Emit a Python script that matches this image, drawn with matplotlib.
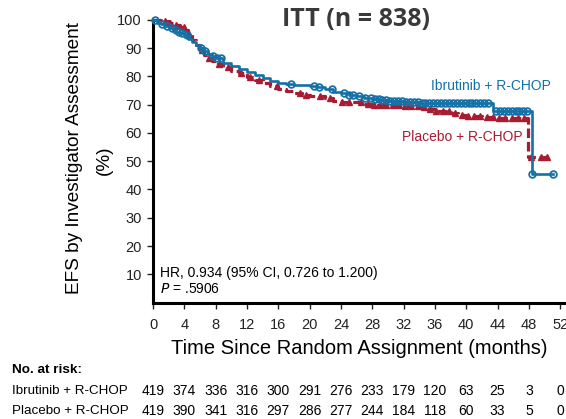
import matplotlib
matplotlib.use('Agg')
import matplotlib.pyplot as plt
import matplotlib.transforms as mtransforms
import numpy as np


# Kaplan-Meier steps (months, % event-free)
IBR_T = [0, 0.5, 1, 1.5, 2, 2.5, 3, 3.5, 4, 4.5, 5, 5.5, 6, 6.5, 7, 7.5, 8,
         9, 10, 11, 12, 13, 14, 15, 16, 17, 18, 19, 20, 21, 22, 23, 24, 25,
         26, 27, 28, 29, 30, 31, 32, 34, 36, 38, 40, 42, 43.4, 48.4, 51.1]
IBR_S = [100, 99, 98.5, 97.8, 97, 96.5, 95.8, 95.2, 94.5, 93.3, 92, 91,
         89.9, 88.8, 88, 87.2, 86.3, 84.8, 83.7, 82.5, 81.5, 80.3, 79.3,
         78.4, 77.8, 77.3, 76.9, 76.8, 76.6, 76.2, 75.4, 74.6, 74, 73.4,
         72.9, 72.4, 72, 71.7, 71.4, 71.1, 70.9, 70.7, 70.6, 70.5, 70.5,
         70.4, 67.8, 45.4, 45.4]

PBO_T = [0, 1, 2, 2.5, 3, 3.5, 4, 4.5, 5, 5.5, 6, 6.5, 7, 7.5, 8, 9, 10, 11,
         12, 13, 14, 15, 16, 17, 18, 19, 20, 22, 23, 24, 26, 27, 28, 30, 32,
         34, 35, 36, 38, 39, 40, 42, 44, 47.9, 50.3]
PBO_S = [100, 99.5, 99, 98.6, 98.2, 97.5, 96.5, 95, 93, 91, 89.3, 87.5,
         86.3, 85.3, 84.5, 83.2, 82, 81, 79.9, 78.7, 77.5, 76.5, 75.6, 74.8,
         74, 73.3, 72.9, 72.5, 71.3, 71, 70.8, 70.1, 69.9, 69.8, 69.6, 69.3,
         68.4, 67.8, 67.2, 66.5, 65.8, 65.5, 65.2, 51.6, 51.6]

# censoring marks (months)
IBR_CENS = [0.2, 1.2, 1.8, 2.4, 2.9, 3.3, 3.7, 4.3, 6.1, 6.6, 7.6, 8.2, 8.7,
            17.6, 20.6, 21.2, 22.8, 24.4, 25.0, 25.6, 26.3, 27.1, 27.8,
            28.3, 28.8, 29.3, 29.8, 30.3, 30.8, 31.3, 31.8, 32.3, 32.8, 33.3,
            33.8, 34.3, 34.8, 35.3, 35.8, 36.3, 36.8, 37.3, 37.8, 38.3, 38.8,
            39.3, 39.8, 40.3, 40.8, 41.3, 41.8, 42.3, 42.8, 43.8, 44.3, 44.8,
            45.3, 45.8, 46.3, 46.8, 47.3, 47.8, 48.4, 51.1]
PBO_CENS = [1.5, 2.2, 3.0, 3.9, 4.6, 6.3, 7.2, 8.4, 9.6, 11.2, 12.4, 13.6,
            15.8, 18.8, 19.6, 21.3, 22.6, 24.2, 25.0, 26.6, 27.4, 28.2, 29.0,
            29.8, 30.6, 31.4, 32.2, 33.0, 33.8, 34.6, 35.4, 36.2, 37.0, 37.8,
            38.6, 39.4, 40.2, 41.0, 41.8, 42.6, 43.4, 44.2, 45.0, 45.8, 46.6,
            47.4, 48.3, 49.5, 50.3]

RISK_T = [0, 4, 8, 12, 16, 20, 24, 28, 32, 36, 40, 44, 48, 52]
IBR_RISK = [419, 374, 336, 316, 300, 291, 276, 233, 179, 120, 63, 25, 3, 0]
PBO_RISK = [419, 390, 341, 316, 297, 286, 277, 244, 184, 118, 60, 33, 5, 0]

BLUE = '#1471a8'
RED = '#a81c32'
FONT = 'Liberation Sans'


def step_value(times, surv, t):
    idx = np.searchsorted(times, t, side='right') - 1
    return np.asarray(surv)[idx]


plt.rcParams['font.family'] = FONT

fig = plt.figure(figsize=(5.66, 4.19), dpi=100)
W, H = 566.0, 419.0
x0, x1 = 153.0, 566.0
y0, y1 = 302.7, 19.7
ax = fig.add_axes([x0 / W, 1 - y0 / H, (x1 - x0) / W, (y0 - y1) / H])

ax.step(PBO_T, PBO_S, where='post', color=RED, lw=2.3, ls=(0, (3, 1.2)),
        clip_on=False, zorder=3)
ax.plot(PBO_CENS, step_value(PBO_T, PBO_S, PBO_CENS), ls='none', marker='^',
        ms=5, color=RED, clip_on=False, zorder=3)
ax.step(IBR_T, IBR_S, where='post', color=BLUE, lw=1.9, clip_on=False,
        zorder=4)
ax.plot(IBR_CENS, step_value(IBR_T, IBR_S, IBR_CENS), ls='none', marker='o',
        ms=4.8, mfc='none', mec=BLUE, mew=1.3, clip_on=False, zorder=4)

ax.set_xlim(0, (x1 - x0) / 7.83)
ax.set_ylim(0, 100)
ax.set_xticks(RISK_T)
ax.set_yticks(np.arange(10, 101, 10))
ax.spines['top'].set_visible(False)
ax.spines['right'].set_visible(False)
ax.spines['left'].set_linewidth(2.2)
ax.spines['bottom'].set_linewidth(2.2)
ax.tick_params(axis='both', direction='out', length=4, width=1,
               labelsize=10.5, colors='#222222', pad=4)
ax.tick_params(axis='x', pad=7)

ax.set_xlabel('Time Since Random Assignment (months)', fontsize=14.5,
              labelpad=5)
fig.text(75 / W, 1 - 158 / H, 'EFS by Investigator Assessment', rotation=90,
         fontsize=13.7, ha='center', va='center')
fig.text(104 / W, 1 - 160 / H, '(%)', rotation=90, fontsize=13.7,
         ha='center', va='center')

fig.text(356 / W, 1 - 20 / H, 'ITT (n = 838)', fontsize=18,
         fontweight='bold', family='Open Sans', color='#3a3a3a',
         ha='center', va='center')
fig.text(491 / W, 1 - 86 / H, 'Ibrutinib + R-CHOP', color=BLUE, fontsize=10,
         ha='center', va='center')
fig.text(462 / W, 1 - 136.5 / H, 'Placebo + R-CHOP', color=RED, fontsize=10,
         ha='center', va='center')

fig.text(160 / W, 1 - 272.5 / H, 'HR, 0.934 (95% CI, 0.726 to 1.200)',
         fontsize=10, ha='left', va='center')
fig.text(160 / W, 1 - 288.5 / H, r'$\it{P}$ = .5906', fontsize=10,
         ha='left', va='center')

# number at risk table
trans = mtransforms.blended_transform_factory(ax.transData, fig.transFigure)
fig.text(12 / W, 1 - 370 / H, 'No. at risk:', fontsize=9.7,
         fontweight='bold', ha='left', va='center')
rows = [('Ibrutinib + R-CHOP', IBR_RISK, 390.7),
        ('Placebo + R-CHOP', PBO_RISK, 410.7)]
for name, counts, ypx in rows:
    fig.text(12 / W, 1 - ypx / H, name, fontsize=9.6, ha='left',
             va='center')
    for t, n in zip(RISK_T, counts):
        ax.text(t, 1 - ypx / H, str(n), transform=trans, fontsize=10,
                ha='center', va='center', clip_on=False)

fig.savefig('out.png', dpi=100)
